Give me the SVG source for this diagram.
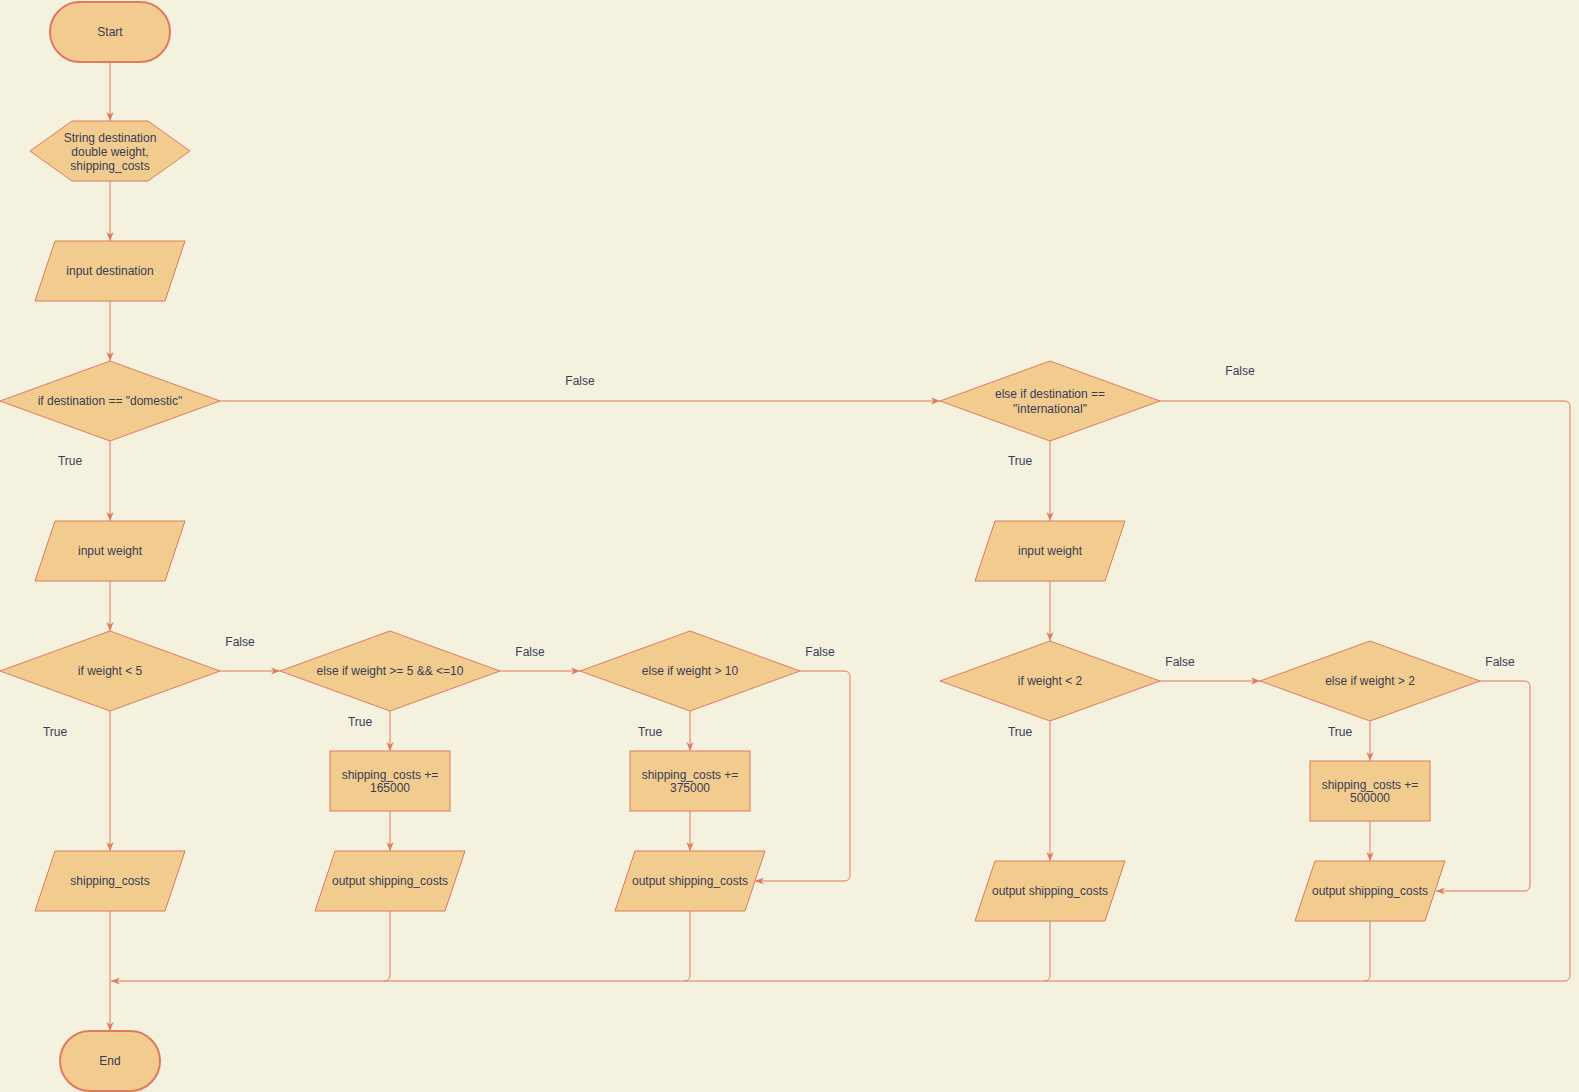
<svg xmlns="http://www.w3.org/2000/svg" width="1579" height="1092" viewBox="0 0 1579 1092">
<style>
.bg{fill:#F4F1DE}
.s{fill:#F2CC8F;stroke:#E07A5F;stroke-width:1}
.t{fill:#F2CC8F;stroke:#E07A5F;stroke-width:2}
text{font-family:"Liberation Sans",Arial,sans-serif;font-size:12px;fill:#393C56;text-anchor:middle}
.c{fill:none;stroke:#E07A5F;stroke-width:1}
.a{marker-end:url(#arr)}
</style>
<defs>
<marker id="arr" viewBox="0 0 10 10" refX="10" refY="5" markerWidth="9" markerHeight="9" markerUnits="userSpaceOnUse" orient="auto">
<path d="M0,1 L10,5 L0,9 L3,5 z" fill="#E07A5F"/>
</marker>
</defs>
<rect class="bg" x="0" y="0" width="1579" height="1092"/>
<g id="connectors">
<path class="c a" d="M110,62 V121"/>
<path class="c a" d="M110,181 V241"/>
<path class="c a" d="M110,301 V361"/>
<path class="c a" d="M110,441 V521"/>
<path class="c a" d="M110,581 V631"/>
<path class="c a" d="M110,711 V851"/>
<path class="c a" d="M110,911 V1031"/>
<path class="c a" d="M220,401 H940"/>
<path class="c a" d="M1160,401 H1564 Q1570,401 1570,407 V975 Q1570,981 1564,981 H111"/>
<path class="c a" d="M220,671 H280"/>
<path class="c a" d="M500,671 H580"/>
<path class="c a" d="M390,711 V751"/>
<path class="c a" d="M390,811 V851"/>
<path class="c" d="M390,911 V975 Q390,981 384,981"/>
<path class="c a" d="M690,711 V751"/>
<path class="c a" d="M690,811 V851"/>
<path class="c" d="M690,911 V975 Q690,981 684,981"/>
<path class="c a" d="M800,671 H844 Q850,671 850,677 V875 Q850,881 844,881 H755"/>
<path class="c a" d="M1050,441 V521"/>
<path class="c a" d="M1050,581 V641"/>
<path class="c a" d="M1050,721 V861"/>
<path class="c" d="M1050,921 V975 Q1050,981 1044,981"/>
<path class="c a" d="M1160,681 H1260"/>
<path class="c a" d="M1370,721 V761"/>
<path class="c a" d="M1370,821 V861"/>
<path class="c" d="M1370,921 V975 Q1370,981 1364,981"/>
<path class="c a" d="M1480,681 H1524 Q1530,681 1530,687 V885 Q1530,891 1524,891 H1436"/>
<text x="70" y="465">True</text>
<text x="580" y="385">False</text>
<text x="1240" y="375">False</text>
<text x="1020" y="465">True</text>
<text x="55" y="736">True</text>
<text x="240" y="646">False</text>
<text x="360" y="726">True</text>
<text x="530" y="656">False</text>
<text x="650" y="736">True</text>
<text x="820" y="656">False</text>
<text x="1020" y="736">True</text>
<text x="1180" y="666">False</text>
<text x="1340" y="736">True</text>
<text x="1500" y="666">False</text>
</g>
<g id="start"><rect class="t" x="50" y="2" width="120" height="60" rx="30"/><text x="110" y="36">Start</text></g>
<g id="declare"><polygon class="s" points="30,151 72,121 148,121 190,151 148,181 72,181"/><text x="110" y="142">String destination</text><text x="110" y="156">double weight,</text><text x="110" y="170">shipping_costs</text></g>
<g id="inputDest"><polygon class="s" points="55,241 185,241 165,301 35,301"/><text x="110" y="275">input destination</text></g>
<g id="ifDomestic"><polygon class="s" points="0,401 110,361 220,401 110,441"/><text x="110" y="405">if destination == "domestic"</text></g>
<g id="inputWeight1"><polygon class="s" points="55,521 185,521 165,581 35,581"/><text x="110" y="555">input weight</text></g>
<g id="ifW5"><polygon class="s" points="0,671 110,631 220,671 110,711"/><text x="110" y="675">if weight &lt; 5</text></g>
<g id="out1"><polygon class="s" points="55,851 185,851 165,911 35,911"/><text x="110" y="885">shipping_costs</text></g>
<g id="end"><rect class="t" x="60" y="1031" width="100" height="60" rx="30"/><text x="110" y="1065">End</text></g>
<g id="ifW5to10"><polygon class="s" points="280,671 390,631 500,671 390,711"/><text x="390" y="675">else if weight &gt;= 5 &amp;&amp; &lt;=10</text></g>
<g id="add165"><rect class="s" x="330" y="751" width="120" height="60"/><text x="390" y="779">shipping_costs +=</text><text x="390" y="792">165000</text></g>
<g id="out2"><polygon class="s" points="335,851 465,851 445,911 315,911"/><text x="390" y="885">output shipping_costs</text></g>
<g id="ifW10"><polygon class="s" points="580,671 690,631 800,671 690,711"/><text x="690" y="675">else if weight &gt; 10</text></g>
<g id="add375"><rect class="s" x="630" y="751" width="120" height="60"/><text x="690" y="779">shipping_costs +=</text><text x="690" y="792">375000</text></g>
<g id="out3"><polygon class="s" points="635,851 765,851 745,911 615,911"/><text x="690" y="885">output shipping_costs</text></g>
<g id="ifIntl"><polygon class="s" points="940,401 1050,361 1160,401 1050,441"/><text x="1050" y="398">else if destination ==</text><text x="1050" y="413">"international"</text></g>
<g id="inputWeight2"><polygon class="s" points="995,521 1125,521 1105,581 975,581"/><text x="1050" y="555">input weight</text></g>
<g id="ifW2"><polygon class="s" points="940,681 1050,641 1160,681 1050,721"/><text x="1050" y="685">if weight &lt; 2</text></g>
<g id="out4"><polygon class="s" points="995,861 1125,861 1105,921 975,921"/><text x="1050" y="895">output shipping_costs</text></g>
<g id="ifWgt2"><polygon class="s" points="1260,681 1370,641 1480,681 1370,721"/><text x="1370" y="685">else if weight &gt; 2</text></g>
<g id="add500"><rect class="s" x="1310" y="761" width="120" height="60"/><text x="1370" y="789">shipping_costs +=</text><text x="1370" y="802">500000</text></g>
<g id="out5"><polygon class="s" points="1315,861 1445,861 1425,921 1295,921"/><text x="1370" y="895">output shipping_costs</text></g>
</svg>
